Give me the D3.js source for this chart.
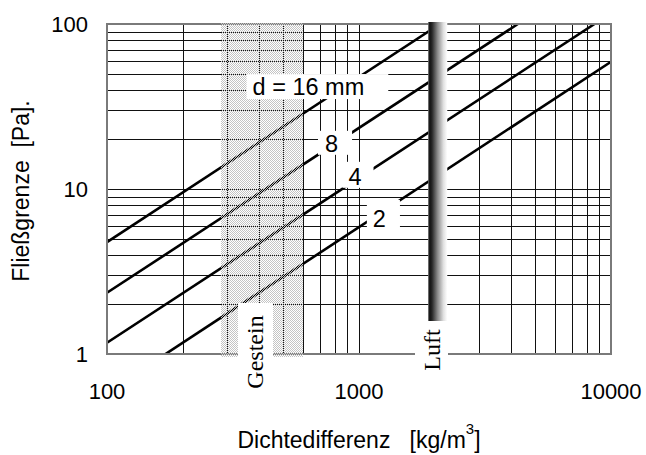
<!DOCTYPE html>
<html>
<head>
<meta charset="utf-8">
<script src="https://cdn.jsdelivr.net/npm/d3@7"></script>
<style>
  body { margin: 0; background: #fff; }
  svg { display: block; }
  text { font-family: "Liberation Sans", Arial, sans-serif; fill: #000; }
  .serif { font-family: "Liberation Serif", "Times New Roman", serif; }
</style>
</head>
<body>
<script>
// values
const xTickValues = [100, 1000, 10000]
const yTickValues = [1, 10, 100]
const diameters = ["d = 16 mm", "8", "4", "2"]
// [Dichtedifferenz, Fließgrenze] end points of every line
const line16 = [[100, 4.77], [2095, 100]]
const line8 = [[100, 2.35], [4270, 100]]
const line4 = [[100, 1.17], [8600, 100]]
const line2 = [[100, 0.585], [10000, 59]]
const gesteinRange = [283, 596]
const luftRange = [1880, 2240]

const width = 646
const height = 455
const margin = { top: 24, right: 35, bottom: 101, left: 107 }

const x = d3.scaleLog().domain([100, 10000]).range([margin.left, width - margin.right])
const y = d3.scaleLog().domain([1, 100]).range([height - margin.bottom, margin.top])

const svg = d3.select("body").append("svg")
  .attr("width", width)
  .attr("height", height)

const defs = svg.append("defs")
defs.append("clipPath").attr("id", "plot")
  .append("rect")
  .attr("x", x(100)).attr("y", y(100))
  .attr("width", x(10000) - x(100)).attr("height", y(1) - y(100))

// stipple for the Gestein band
const pat = defs.append("pattern").attr("id", "stipple")
  .attr("patternUnits", "userSpaceOnUse")
  .attr("width", 2).attr("height", 2)
pat.append("rect").attr("x", 0).attr("y", 0).attr("width", 1).attr("height", 1).attr("fill", "#c4c4c4")
pat.append("rect").attr("x", 1).attr("y", 1).attr("width", 1).attr("height", 1).attr("fill", "#c4c4c4")

const grad = defs.append("linearGradient").attr("id", "luftGrad")
  .attr("x1", "0%").attr("x2", "100%").attr("y1", "0%").attr("y2", "0%")
grad.selectAll("stop")
  .data([[0, "#777"], [0.08, "#111"], [0.2, "#262626"], [0.5, "#8c8c8c"], [0.8, "#e0e0e0"], [1, "#fff"]])
  .enter().append("stop")
  .attr("offset", d => d[0])
  .attr("stop-color", d => d[1])

// grid
const grid = svg.append("g").attr("clip-path", "url(#plot)")
  .attr("stroke", "#111").attr("stroke-width", 1)
grid.selectAll(".gx").data(x.ticks()).enter().append("line")
  .attr("x1", d => Math.round(x(d)) + 0.5).attr("x2", d => Math.round(x(d)) + 0.5)
  .attr("y1", y(100)).attr("y2", y(1))
grid.selectAll(".gy").data(y.ticks()).enter().append("line")
  .attr("y1", d => Math.round(y(d)) + 0.5).attr("y2", d => Math.round(y(d)) + 0.5)
  .attr("x1", x(100)).attr("x2", x(10000))

// lines for every grain size
const lineGen = d3.line().x(d => x(d[0])).y(d => y(d[1]))
svg.append("g").attr("clip-path", "url(#plot)")
  .selectAll("path")
  .data([line16, line8, line4, line2])
  .enter().append("path")
  .attr("d", lineGen)
  .attr("fill", "none")
  .attr("stroke", "#000")
  .attr("stroke-width", 2.6)

// frame
svg.append("rect")
  .attr("x", x(100)).attr("y", y(100))
  .attr("width", x(10000) - x(100)).attr("height", y(1) - y(100))
  .attr("fill", "none").attr("stroke", "#7a7a7a").attr("stroke-width", 2)

// Gestein band
svg.append("rect")
  .attr("x", Math.round(x(gesteinRange[0])))
  .attr("y", y(100) - 1)
  .attr("width", Math.round(x(gesteinRange[1]) - x(gesteinRange[0])))
  .attr("height", y(1) - y(100) + 4)
  .attr("fill", "url(#stipple)")

// Luft bar
svg.append("rect")
  .attr("x", x(luftRange[0])).attr("y", y(100) - 2)
  .attr("width", x(luftRange[1]) - x(luftRange[0]))
  .attr("height", y(1) - y(100) + 2)
  .attr("fill", "url(#luftGrad)")

// labels on the lines
const labelSpots = [
  { t: diameters[0], x: 630, y: 37.1, pad: [6, 24, 0, -1] },
  { t: diameters[1], x: 778, y: 16.8, pad: [7, 14, 0, -2] },
  { t: diameters[2], x: 964, y: 10.6, pad: [6, 12, 2, -2] },
  { t: diameters[3], x: 1205, y: 5.89, pad: [6, 14, 6, 4] }
]
labelSpots.forEach(l => {
  const g = svg.append("g")
  const box = g.append("rect").attr("fill", "#fff")
  const t = g.append("text")
    .attr("x", x(l.x)).attr("y", y(l.y))
    .attr("text-anchor", "middle")
    .style("font-size", "23.5px")
    .style("white-space", "pre")
    .text(l.t)
  const b = t.node().getBBox()
  box.attr("x", b.x - l.pad[0]).attr("y", b.y - l.pad[2])
    .attr("width", b.width + l.pad[0] + l.pad[1])
    .attr("height", b.height + l.pad[2] + l.pad[3])
})

// vertical labels Gestein / Luft
const sideLabels = [
  { t: "Gestein", x: 255, y: 352, box: [238, 303, 273, 393] },
  { t: "Luft", x: 432, y: 350, box: [415, 321, 448, 377] }
]
sideLabels.forEach(l => {
  svg.append("rect")
    .attr("x", l.box[0]).attr("y", l.box[1])
    .attr("width", l.box[2] - l.box[0]).attr("height", l.box[3] - l.box[1])
    .attr("fill", "#fff")
  svg.append("text")
    .attr("class", "serif")
    .attr("transform", "translate(" + (l.x + 8) + "," + l.y + ") rotate(-90)")
    .attr("text-anchor", "middle")
    .style("font-size", "24px")
    .text(l.t)
})

// tick labels
svg.selectAll(".xt").data(xTickValues).enter().append("text")
  .attr("x", d => x(d)).attr("y", 399)
  .attr("text-anchor", "middle")
  .style("font-size", "22px")
  .text(d => d)
svg.selectAll(".yt").data(yTickValues).enter().append("text")
  .attr("x", 88).attr("y", d => y(d) + 8)
  .attr("text-anchor", "end")
  .style("font-size", "22px")
  .text(d => d)

// axis titles
const xt = svg.append("text")
  .attr("x", 359).attr("y", 448)
  .attr("text-anchor", "middle")
  .style("font-size", "23px")
  .style("white-space", "pre")
xt.append("tspan").text("Dichtedifferenz   [kg/m")
xt.append("tspan").attr("dy", -14).style("font-size", "15px").text("3")
xt.append("tspan").attr("dy", 14).text("]")

svg.append("text")
  .attr("transform", "translate(29,191) rotate(-90)")
  .attr("text-anchor", "middle")
  .style("font-size", "23px")
  .style("white-space", "pre")
  .text("Fließgrenze  [Pa].")
</script>
</body>
</html>
